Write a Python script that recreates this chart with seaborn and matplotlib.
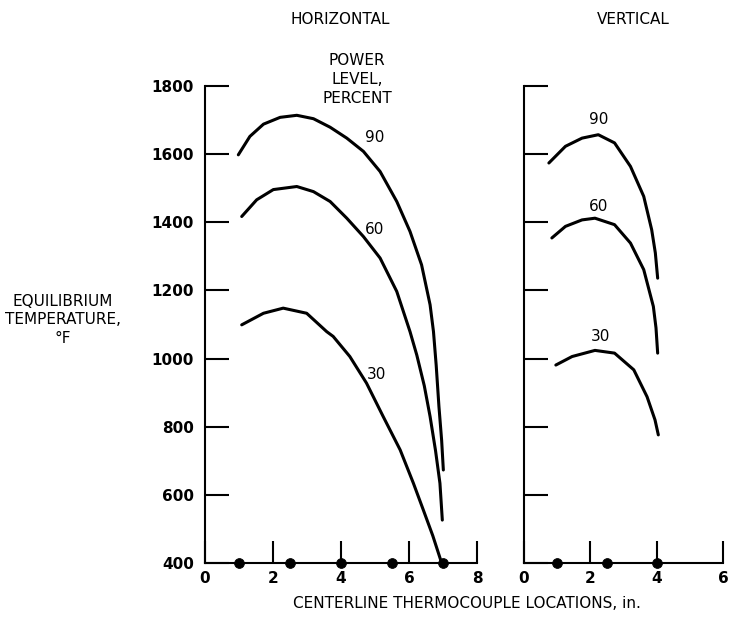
import matplotlib
matplotlib.use("Agg")
import matplotlib.pyplot as plt
import seaborn as sns
import pandas as pd

# ---------------- data ----------------
# Horizontal orientation, power level 90 / 60 / 30 percent
h90_x = [0.98, 1.32, 1.72, 2.21, 2.70, 3.19, 3.68, 4.17, 4.66, 5.15, 5.64, 6.03,
         6.37, 6.62, 6.72, 6.80, 6.88, 6.96, 7.01]
h90_y = [1598, 1652, 1688, 1708, 1714, 1704, 1679, 1647, 1608, 1549, 1461, 1373,
         1275, 1158, 1079, 980, 860, 760, 673]
h60_x = [1.08, 1.52, 2.01, 2.70, 3.19, 3.68, 4.17, 4.66, 5.15, 5.64, 6.03, 6.23,
         6.45, 6.62, 6.78, 6.91, 6.98]
h60_y = [1417, 1466, 1496, 1505, 1490, 1461, 1412, 1358, 1295, 1197, 1079, 1010,
         920, 830, 730, 634, 526]
h30_x = [1.08, 1.72, 2.30, 2.99, 3.58, 3.77, 4.26, 4.75, 5.24, 5.74, 6.13, 6.42,
         6.70, 6.96]
h30_y = [1099, 1133, 1148, 1133, 1079, 1065, 1006, 928, 830, 732, 634, 556,
         480, 400]

# Vertical orientation
v90_x = [0.75, 1.25, 1.75, 2.24, 2.73, 3.21, 3.61, 3.85, 3.96, 4.03]
v90_y = [1574, 1623, 1647, 1657, 1633, 1564, 1476, 1378, 1310, 1236]
v60_x = [0.84, 1.25, 1.75, 2.14, 2.73, 3.21, 3.61, 3.90, 3.98, 4.03]
v60_y = [1354, 1388, 1407, 1412, 1393, 1339, 1261, 1153, 1090, 1016]
v30_x = [0.96, 1.45, 2.14, 2.73, 3.31, 3.71, 3.95, 4.05]
v30_y = [981, 1006, 1024, 1016, 967, 888, 820, 776]

# thermocouple locations
h_tc = [1, 2.5, 4, 5.5, 7]
v_tc = [1, 2.5, 4]

power_levels = ["90", "60", "30"]
h_label_pos = [(5.0, 1649), (5.0, 1378), (5.05, 952)]
v_label_pos = [(2.26, 1702), (2.26, 1446), (2.31, 1065)]

h_xticks = [0, 2, 4, 6, 8]
v_xticks = [0, 2, 4, 6]
yticks = [400, 600, 800, 1000, 1200, 1400, 1600, 1800]

# ---------------- plot ----------------
sns.set_theme(style="white")
plt.rcParams["font.family"] = ["DejaVu Sans"]
plt.rcParams["text.color"] = "black"
plt.rcParams["xtick.color"] = "black"
plt.rcParams["ytick.color"] = "black"

fig = plt.figure(figsize=(7.30, 6.19), dpi=100)
axH = fig.add_axes([205 / 730, 1 - 563 / 619, 272 / 730, 477 / 619])
axV = fig.add_axes([524 / 730, 1 - 563 / 619, 199 / 730, 477 / 619])

def curve(ax, xs, ys):
    df = pd.DataFrame({"x": xs, "y": ys})
    sns.lineplot(data=df, x="x", y="y", ax=ax, color="black", lw=2.2,
                 sort=False, estimator=None, solid_joinstyle="round",
                 solid_capstyle="round")

for xs, ys in [(h90_x, h90_y), (h60_x, h60_y), (h30_x, h30_y)]:
    curve(axH, xs, ys)
for xs, ys in [(v90_x, v90_y), (v60_x, v60_y), (v30_x, v30_y)]:
    curve(axV, xs, ys)

sns.scatterplot(x=h_tc, y=[400] * len(h_tc), ax=axH, color="black", s=50,
                edgecolor="black", clip_on=False, zorder=5)
sns.scatterplot(x=v_tc, y=[400] * len(v_tc), ax=axV, color="black", s=50,
                edgecolor="black", clip_on=False, zorder=5)

for lab, (x, y) in zip(power_levels, h_label_pos):
    axH.text(x, y, lab, fontsize=11, ha="center", va="center", color="black")
for lab, (x, y) in zip(power_levels, v_label_pos):
    axV.text(x, y, lab, fontsize=11, ha="center", va="center", color="black")

for ax, xt, xmax in [(axH, h_xticks, 8), (axV, v_xticks, 6)]:
    ax.set_xlim(0, xmax)
    ax.set_ylim(400, 1800)
    ax.set_xticks(xt)
    ax.set_yticks(yticks)
    ax.set_xlabel("")
    ax.set_ylabel("")
    for s in ["top", "right"]:
        ax.spines[s].set_visible(False)
    for s in ["left", "bottom"]:
        ax.spines[s].set_color("black")
        ax.spines[s].set_linewidth(1.5)
    ax.tick_params(axis="y", left=True, direction="in", length=17, width=1.5,
                   color="black", labelcolor="black", labelsize=11, pad=8)
    ax.tick_params(axis="x", bottom=True, direction="in", length=16, width=1.5,
                   color="black", labelcolor="black", labelsize=11, pad=6)
    ax.set_facecolor("white")

axH.set_yticklabels([str(v) for v in yticks])
axV.set_yticklabels([])
axV.set_xticklabels([str(v) for v in v_xticks])
for ax in (axH, axV):
    for t in ax.get_xticklabels() + ax.get_yticklabels():
        t.set_fontweight("bold")

fig.text(340 / 730, 1 - 20 / 619, "HORIZONTAL", fontsize=11, ha="center", va="center")
fig.text(633 / 730, 1 - 20 / 619, "VERTICAL", fontsize=11, ha="center", va="center")
fig.text(357 / 730, 1 - 53 / 619, "POWER\nLEVEL,\nPERCENT", fontsize=11,
         ha="center", va="top", linespacing=1.35)
fig.text(63 / 730, 1 - 320 / 619, "EQUILIBRIUM\nTEMPERATURE,\n°F", fontsize=11,
         ha="center", va="center", linespacing=1.3)
fig.text(467 / 730, 1 - 604 / 619, "CENTERLINE THERMOCOUPLE LOCATIONS, in.",
         fontsize=11, ha="center", va="center")

fig.savefig("out.png", dpi=100, facecolor="white")
